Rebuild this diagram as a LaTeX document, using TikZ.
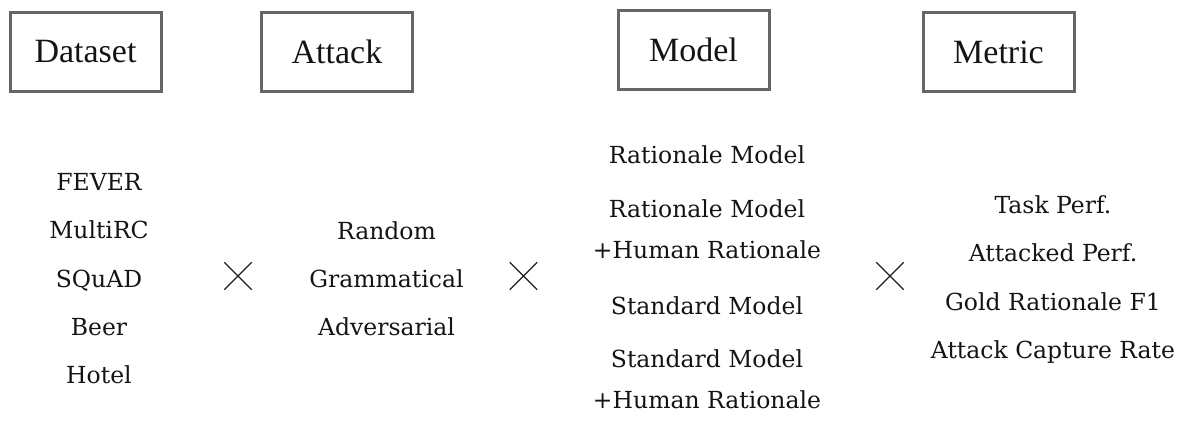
\documentclass[tikz,border=0pt]{standalone}
\usepackage{fontspec}
\usetikzlibrary{shapes.misc}
\newfontfamily\titlefont{Liberation Serif}
\newfontfamily\listfont{DejaVu Serif}
\begin{document}
\begin{tikzpicture}[x=1pt,y=-1pt,
  headbox/.style={draw=black!60,line width=3pt,minimum width=151pt,minimum height=79pt,
    inner sep=0pt,font=\titlefont\fontsize{34}{40}\selectfont,text=black!92},
  item/.style={anchor=base,inner sep=0pt,align=center,
    font=\listfont\fontsize{23.5}{41}\selectfont,text=black!92},
  times/.style={cross out,draw=black!88,line width=1.3pt,minimum size=26pt,inner sep=0pt}]
\useasboundingbox (0,0) rectangle (1194,421);

% column headings
\node[headbox] (dataset) at (85.5,52) {Dataset};
\node[headbox] (attack)  at (337,52)  {Attack};
\node[headbox] (model)   at (693.5,49.5) {Model};
\node[headbox] (metric)  at (998.5,52) {Metric};

% datasets
\node[item] (fever)   at (99,190)   {FEVER};
\node[item] (multirc) at (99,238.5) {MultiRC};
\node[item] (squad)   at (99,287)   {SQuAD};
\node[item] (beer)    at (99,335)   {Beer};
\node[item] (hotel)   at (99,383)   {Hotel};

% attacks
\node[item] (random)  at (386.5,239.3) {Random};
\node[item] (gramm)   at (386.5,287.3) {Grammatical};
\node[item] (advers)  at (386.5,335)   {Adversarial};

% models (two-line entries are placed by the baseline of their last line)
\node[item] (ratm)    at (707,163.3) {Rationale Model};
\node[item] (ratmh)   at (707,258.3) {Rationale Model\\+Human Rationale};
\node[item] (stdm)    at (707,314.3) {Standard Model};
\node[item] (stdmh)   at (707,408.3) {Standard Model\\+Human Rationale};

% metrics
\node[item] (taskp)   at (1053,213.3) {Task Perf.};
\node[item] (attp)    at (1053,261.7) {Attacked Perf.};
\node[item] (goldf)   at (1053,310)   {Gold Rationale F1};
\node[item] (capr)    at (1053,358.3) {Attack Capture Rate};

% product signs between the columns
\node[times] (x1) at (238,276) {};
\node[times] (x2) at (523.5,276) {};
\node[times] (x3) at (890,276) {};
\end{tikzpicture}
\end{document}
